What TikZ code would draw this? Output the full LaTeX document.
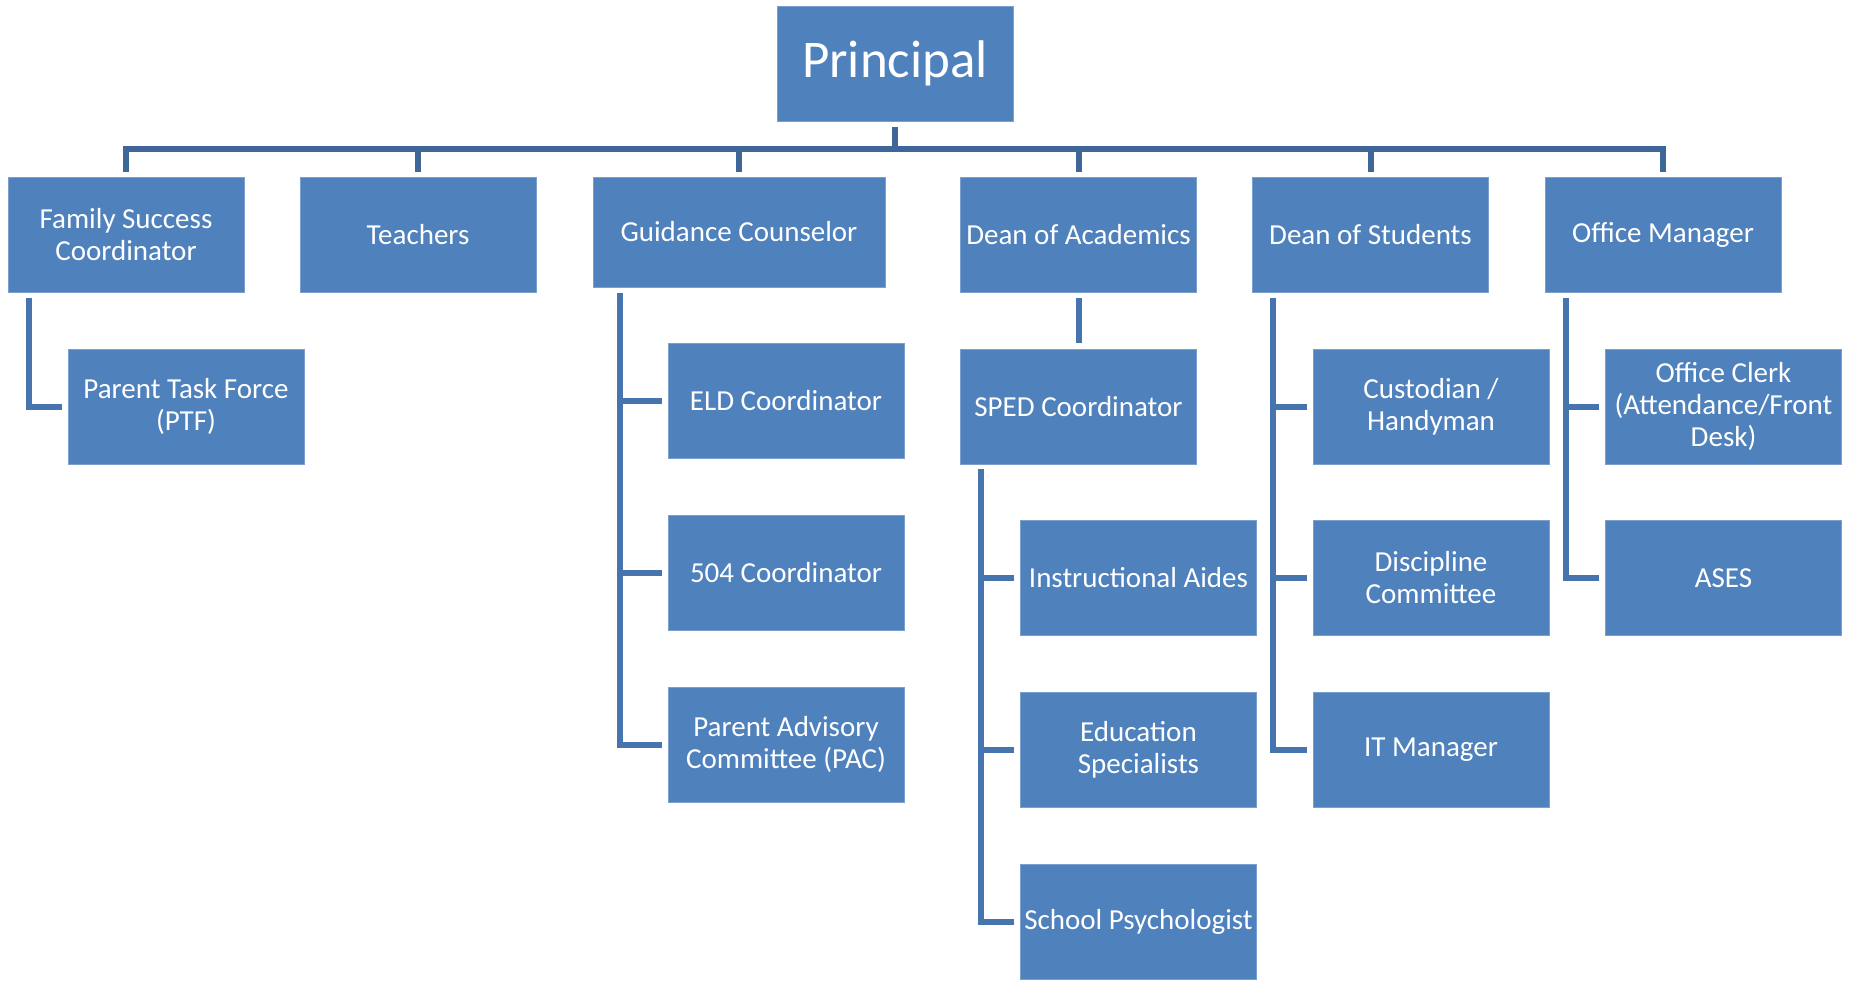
\documentclass[tikz,border=0pt]{standalone}
\usepackage{fontspec}
\setmainfont{Carlito}
\definecolor{boxblue}{HTML}{4F81BD}
\definecolor{trunkblue}{HTML}{3F6699}
\definecolor{branchblue}{HTML}{4674AE}
\begin{document}
\begin{tikzpicture}[x=1pt,y=-1pt,
    box/.style={fill=boxblue,draw=boxblue!75!white,line width=.8pt,text=white,align=center,
        inner sep=2pt,minimum width=236pt,minimum height=115pt,font=\fontsize{29}{32}\selectfont},
    trunk/.style={draw=trunkblue,line width=6pt},
    branch/.style={draw=branchblue,line width=6pt}]
    \useasboundingbox (0,0) rectangle (1849,980);
    % top and first row
    \node[box,font=\fontsize{53}{60}\selectfont](pri) at (895,63.5) {Principal};
    \node[box](fsc) at (126,235) {Family Success\\Coordinator};
    \node[box](tch) at (418,235) {Teachers};
    \node[box,minimum width=292pt,minimum height=110pt](gc) at (739,232) {Guidance Counselor};
    \node[box](doa) at (1078.5,235) {Dean of Academics};
    \node[box](dos) at (1370.5,235) {Dean of Students};
    \node[box](om) at (1663,235) {Office Manager};
    % staff under each head
    \node[box](ptf) at (186,406.5) {Parent Task Force\\(PTF)};
    \node[box](eld) at (786,401) {ELD Coordinator};
    \node[box](c504) at (786,573) {504 Coordinator};
    \node[box](pac) at (786,744.5) {Parent Advisory\\Committee (PAC)};
    \node[box](sped) at (1078.5,406.5) {SPED Coordinator};
    \node[box](aides) at (1138.5,578) {Instructional Aides};
    \node[box](edsp) at (1138.5,750) {Education\\Specialists};
    \node[box](psych) at (1138.5,921.5) {School Psychologist};
    \node[box](cust) at (1431,406.5) {Custodian /\\Handyman};
    \node[box](disc) at (1431,578) {Discipline\\Committee};
    \node[box](itm) at (1431,750) {IT Manager};
    \node[box](clerk) at (1723.5,406.5) {Office Clerk\\(Attendance/Front\\Desk)};
    \node[box](ases) at (1723.5,578) {ASES};
    % main bar
    \coordinate (bar) at (895,149);
    \draw[trunk]([yshift=-6pt]pri.south)--(bar);
    \draw[trunk]([yshift=5pt]fsc.north)|-(bar)-|([yshift=5pt]om.north);
    \foreach \n in {tch,gc,doa,dos}
        \draw[trunk]([yshift=5pt]\n.north)--(\n.north|-bar);
    % side branches
    \coordinate (fscv) at ([xshift=21pt,yshift=-5pt]fsc.south west);
    \draw[branch](fscv)|-([xshift=-6pt]ptf.west);
    \coordinate (gcv) at ([xshift=27pt,yshift=-6pt]gc.south west);
    \draw[branch](gcv)|-([xshift=-6pt]pac.west);
    \foreach \n in {eld,c504}
        \draw[branch](gcv|-\n.west)--([xshift=-6pt]\n.west);
    \draw[branch]([yshift=-5pt]doa.south)--([yshift=6pt]sped.north);
    \coordinate (spedv) at ([xshift=21pt,yshift=-5pt]sped.south west);
    \draw[branch](spedv)|-([xshift=-6pt]psych.west);
    \foreach \n in {aides,edsp}
        \draw[branch](spedv|-\n.west)--([xshift=-6pt]\n.west);
    \coordinate (dosv) at ([xshift=21pt,yshift=-5pt]dos.south west);
    \draw[branch](dosv)|-([xshift=-6pt]itm.west);
    \foreach \n in {cust,disc}
        \draw[branch](dosv|-\n.west)--([xshift=-6pt]\n.west);
    \coordinate (omv) at ([xshift=21pt,yshift=-5pt]om.south west);
    \draw[branch](omv)|-([xshift=-6pt]ases.west);
    \draw[branch](omv|-clerk.west)--([xshift=-6pt]clerk.west);
\end{tikzpicture}
\end{document}
